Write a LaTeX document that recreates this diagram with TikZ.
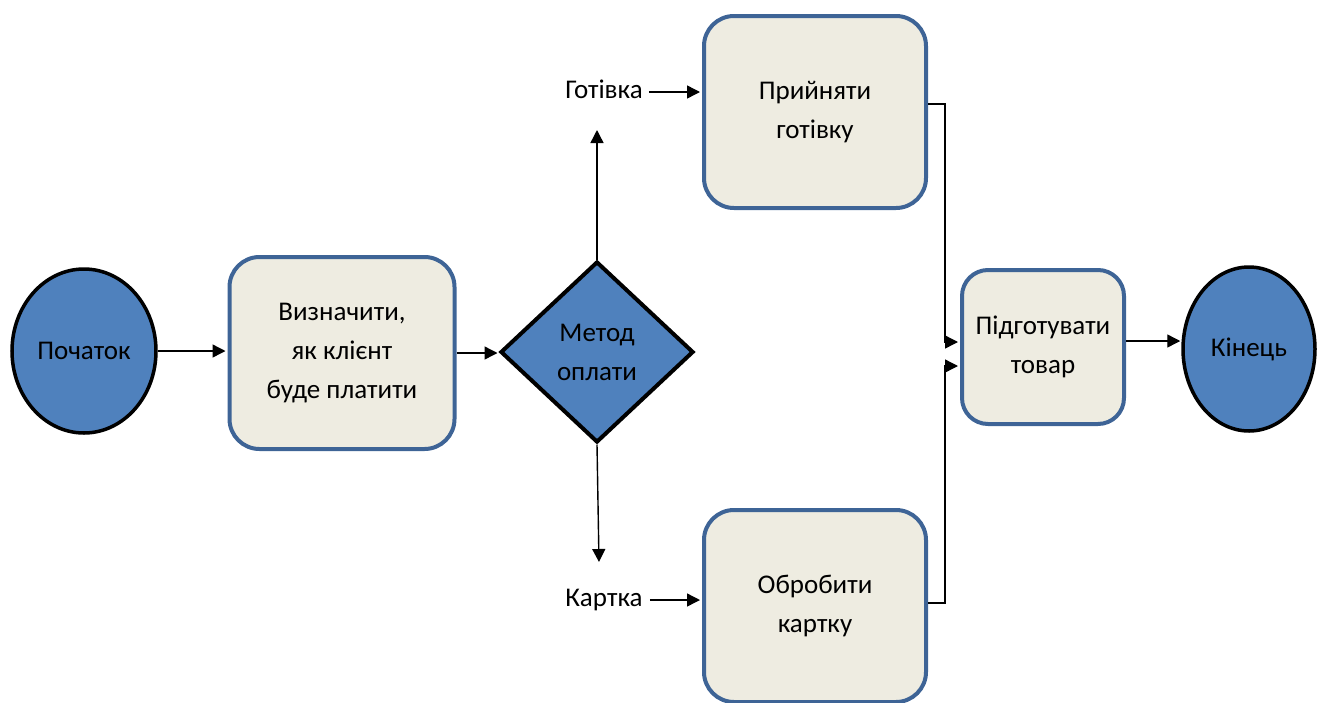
\documentclass[tikz,border=0pt]{standalone}
\usepackage{fontspec}
\setmainfont{Carlito}
\usetikzlibrary{shapes.geometric,arrows.meta}
\definecolor{termblue}{HTML}{4F81BD}
\definecolor{boxfill}{HTML}{EEECE1}
\definecolor{boxedge}{HTML}{3E6496}
\begin{document}
\begin{tikzpicture}[x=1pt,y=-1pt,
  font=\fontsize{27}{39}\selectfont,
  terminal/.style={ellipse, draw=black, line width=3.5pt, fill=termblue, inner sep=0pt},
  process/.style={rectangle, rounded corners=30pt, draw=boxedge, line width=4pt,
    fill=boxfill, align=center, inner sep=0pt},
  decision/.style={diamond, draw=black, line width=4pt, fill=termblue, align=center,
    inner sep=0pt},
  arr/.style={line width=1.4pt, -{Triangle[length=13pt,width=13pt]}},
  lbl/.style={inner sep=0pt}]
\useasboundingbox (0,0) rectangle (1318,702);

% shapes
\node[terminal, minimum width=144pt, minimum height=164pt] (start) at (84,351) {Початок};
\node[process, minimum width=225pt, minimum height=192pt] (decide) at (342,353)
  {Визначити,\\як клієнт\\буде платити};
\node[decision, minimum width=193pt, minimum height=181pt] (method) at (597,352)
  {Метод\\оплати};
\node[process, minimum width=222pt, minimum height=192pt] (cash) at (815,112)
  {Прийняти\\готівку};
\node[process, minimum width=222pt, minimum height=192pt] (card) at (815,606)
  {Обробити\\картку};
\node[process, rounded corners=26pt, minimum width=162pt, minimum height=154pt] (prep) at (1043,347)
  {Підготувати\\товар};
\node[terminal, minimum width=132pt, minimum height=164pt] (finish) at (1249,349) {Кінець};

% branch labels
\node[lbl] (cashlbl) at (604,89) {Готівка};
\node[lbl] (cardlbl) at (604,600) {Картка};
\coordinate (uptip) at (597,130);
\coordinate (downtip) at (599,562);

% connectors
\draw[arr, shorten >=2pt] (start.east) -- (start.east -| decide.west);
\draw[arr, shorten >=1pt] (decide.east) -- (decide.east -| method.west);
\draw[arr] (method.north) -- (uptip);
\draw[arr] (method.south) -- (downtip);
\draw[arr, shorten >=2pt] ([xshift=6pt,yshift=-3pt]cashlbl.east) -- ([yshift=-3pt]cashlbl.east -| cash.west);
\draw[arr, shorten >=2pt] ([xshift=7pt]cardlbl.east) -- (cardlbl.east -| card.west);
\draw[arr, shorten >=2pt] ([yshift=8pt]cash.east) -- ++(17,0) |- ([yshift=5pt]prep.west);
\draw[arr, shorten >=2pt] ([yshift=3pt]card.east) -- ++(17,0) |- ([yshift=-19pt]prep.west);
\draw[arr, shorten >=1pt] ([yshift=6pt]prep.east) -- ([yshift=6pt]prep.east -| finish.west);
\end{tikzpicture}
\end{document}
